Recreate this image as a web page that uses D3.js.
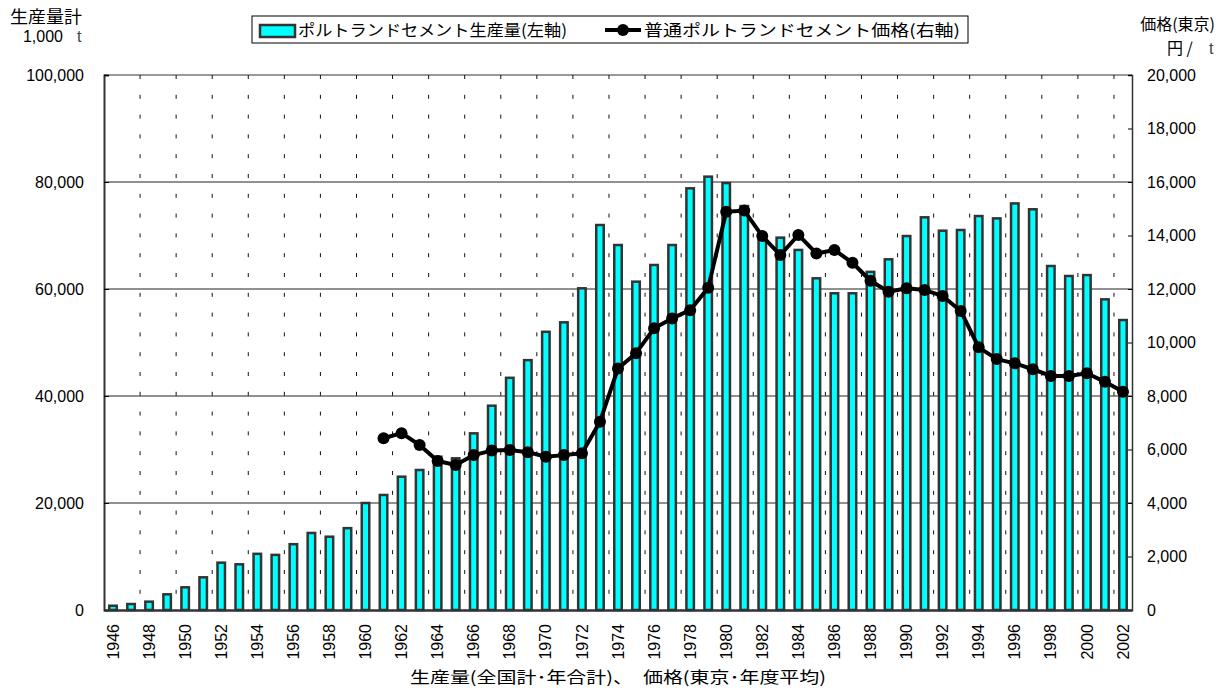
<html>
<head>
<meta charset="utf-8">
<script src="https://d3js.org/d3.v7.min.js"></script>
<style>
body { margin: 0; background: #fff; }
text { font-family: "Liberation Sans", Arial, "Noto Sans CJK JP", sans-serif; fill: #000; }
.jp { font-family: "Noto Sans CJK JP", "Liberation Sans", sans-serif; }
</style>
</head>
<body>
<svg width="1230" height="690"></svg>
<script>
// years (categories)
var years = [1946,1947,1948,1949,1950,1951,1952,1953,1954,1955,1956,1957,1958,1959,
  1960,1961,1962,1963,1964,1965,1966,1967,1968,1969,1970,1971,1972,1973,1974,1975,
  1976,1977,1978,1979,1980,1981,1982,1983,1984,1985,1986,1987,1988,1989,1990,1991,
  1992,1993,1994,1995,1996,1997,1998,1999,2000,2001,2002];

// portland cement production, 1,000 t (left axis)
var production = [800,1120,1560,2930,4240,6110,8850,8540,10500,10300,12300,14400,13700,15300,
  20000,21500,24920,26170,28650,28350,33020,38190,43400,46700,52000,53770,60130,71960,68220,61370,
  64490,68220,78820,81000,79800,75500,70000,69600,67300,62000,59200,59200,63200,65550,69900,73400,
  70900,71030,73640,73200,76000,74900,64300,62430,62600,58070,54200];

// ordinary portland cement price, Tokyo, yen / t (right axis)
var priceYears = [1961,1962,1963,1964,1965,1966,1967,1968,1969,1970,1971,1972,1973,1974,1975,
  1976,1977,1978,1979,1980,1981,1982,1983,1984,1985,1986,1987,1988,1989,1990,1991,1992,1993,
  1994,1995,1996,1997,1998,1999,2000,2001,2002];
var price = [6420,6610,6170,5570,5420,5790,5960,5980,5900,5730,5790,5860,7040,9030,9600,
  10530,10900,11210,12050,14890,14930,13980,13270,14020,13330,13460,12980,12310,11900,12030,11960,11740,11180,
  9820,9380,9220,9000,8750,8750,8850,8530,8160];

var leftTicks = [0,20000,40000,60000,80000,100000];
var rightTicks = [0,2000,4000,6000,8000,10000,12000,14000,16000,18000,20000];
var yearLabels = years.filter(function(d){ return d % 2 == 0; });

var svg = d3.select("svg");
var L = 104, R = 1132, T = 75, B = 610;

var x = d3.scaleBand().domain(years).range([L, R]).padding(0);
var y = d3.scaleLinear().domain([0, 100000]).range([B, T]);
var y2 = d3.scaleLinear().domain([0, 20000]).range([B, T]);
var bw = x.bandwidth();

// horizontal grid
svg.append("g").selectAll("line")
  .data(leftTicks.filter(function(d){ return d > 0 && d < 100000; }))
  .enter().append("line")
  .attr("x1", L).attr("x2", R)
  .attr("y1", function(d){ return y(d); }).attr("y2", function(d){ return y(d); })
  .attr("stroke", "#222").attr("stroke-width", 1);

// top border
svg.append("line").attr("x1", L).attr("x2", R).attr("y1", T).attr("y2", T)
  .attr("stroke", "#777").attr("stroke-width", 1.5);

// dashed verticals every two years
svg.append("g").selectAll("line")
  .data(years.filter(function(d, i){ return i > 0 && i % 2 == 0; }))
  .enter().append("line")
  .attr("x1", function(d){ return x(d); }).attr("x2", function(d){ return x(d); })
  .attr("y1", T).attr("y2", B)
  .attr("stroke", "#111").attr("stroke-width", 1)
  .attr("stroke-dasharray", "4,15.8");

// bars
svg.append("g").selectAll("rect")
  .data(years)
  .enter().append("rect")
  .attr("x", function(d){ return x(d) + bw / 2 - 3.75; })
  .attr("width", 7.5)
  .attr("y", function(d, i){ return y(production[i]); })
  .attr("height", function(d, i){ return B - y(production[i]); })
  .attr("fill", "#00ffff")
  .attr("stroke", "#333").attr("stroke-width", 2.5);

// price line
var line = d3.line()
  .x(function(d, i){ return x(priceYears[i]) + bw / 2; })
  .y(function(d){ return y2(d); });
svg.append("path").datum(price)
  .attr("d", line)
  .attr("fill", "none").attr("stroke", "#000").attr("stroke-width", 4)
  .attr("stroke-linejoin", "round");
svg.append("g").selectAll("circle")
  .data(price)
  .enter().append("circle")
  .attr("cx", function(d, i){ return x(priceYears[i]) + bw / 2; })
  .attr("cy", function(d){ return y2(d); })
  .attr("r", 6).attr("fill", "#000");

// axes
var ax = svg.append("g").attr("transform", "translate(" + L + ",0)")
  .call(d3.axisLeft(y).tickValues(leftTicks).tickFormat(d3.format(",")).tickSize(-5).tickPadding(20));
ax.select(".domain").attr("stroke", "#333").attr("stroke-width", 2);
ax.selectAll("text").style("font-size", "16px");

var ar = svg.append("g").attr("transform", "translate(" + R + ",0)")
  .call(d3.axisRight(y2).tickValues(rightTicks).tickFormat(d3.format(",")).tickSize(-4).tickPadding(15));
ar.select(".domain").attr("stroke", "#333").attr("stroke-width", 1.5);
ar.selectAll("text").style("font-size", "16px");

var ab = svg.append("g").attr("transform", "translate(0," + B + ")")
  .call(d3.axisBottom(x).tickValues(yearLabels).tickSize(0));
ab.select(".domain").attr("stroke", "#333").attr("stroke-width", 2.5);
ab.selectAll("text")
  .attr("transform", "rotate(-90)")
  .attr("x", -14).attr("y", 0).attr("dy", "0.35em")
  .style("text-anchor", "end").style("font-size", "16px");

// axis titles
svg.append("text").attr("class", "jp").attr("x", 10).attr("y", 23)
  .attr("textLength", 72).attr("lengthAdjust", "spacingAndGlyphs")
  .style("font-size", "17px").text("生産量計");
svg.append("text").attr("x", 63).attr("y", 42).style("text-anchor", "end")
  .style("font-size", "16px").text("1,000");
svg.append("text").attr("x", 77).attr("y", 42).style("font-size", "16px")
  .style("fill", "#444").text("t");

svg.append("text").attr("class", "jp").attr("x", 1215).attr("y", 30)
  .style("text-anchor", "end").style("font-size", "16px").text("価格(東京)");
svg.append("text").attr("class", "jp").attr("x", 1167).attr("y", 54)
  .style("font-size", "16px").text("円 /");
svg.append("text").attr("x", 1209).attr("y", 54).style("font-size", "16px")
  .style("fill", "#444").text("t");

// legend
var lg = svg.append("g");
lg.append("rect").attr("x", 252).attr("y", 16).attr("width", 716).attr("height", 27)
  .attr("fill", "#fff").attr("stroke", "#000").attr("stroke-width", 1);
lg.append("rect").attr("x", 260).attr("y", 25).attr("width", 35).attr("height", 12)
  .attr("fill", "#00ffff").attr("stroke", "#333").attr("stroke-width", 2.5);
lg.append("text").attr("class", "jp").attr("x", 298).attr("y", 36)
  .attr("textLength", 269).attr("lengthAdjust", "spacingAndGlyphs")
  .style("font-size", "16px").text("ポルトランドセメント生産量(左軸)");
lg.append("line").attr("x1", 605).attr("x2", 641).attr("y1", 30).attr("y2", 30)
  .attr("stroke", "#000").attr("stroke-width", 4);
lg.append("circle").attr("cx", 623).attr("cy", 30).attr("r", 6).attr("fill", "#000");
lg.append("text").attr("class", "jp").attr("x", 644).attr("y", 36)
  .attr("textLength", 316).attr("lengthAdjust", "spacingAndGlyphs")
  .style("font-size", "16px").text("普通ポルトランドセメント価格(右軸)");

// bottom caption
svg.append("text").attr("class", "jp").attr("x", 410).attr("y", 683)
  .attr("textLength", 416).attr("lengthAdjust", "spacingAndGlyphs")
  .style("font-size", "16px").text("生産量(全国計･年合計)、　価格(東京･年度平均)");
</script>
</body>
</html>
